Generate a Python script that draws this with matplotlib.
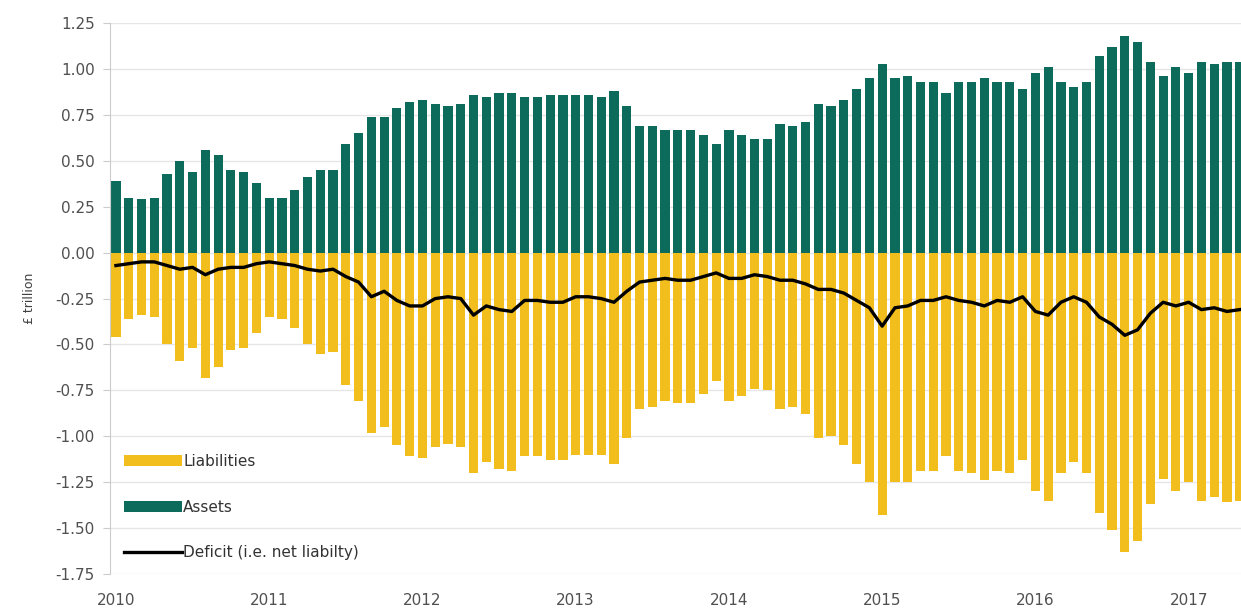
import matplotlib.pyplot as plt
import numpy as np

# monthly, Jan 2010 - May 2017, £ trillion
assets = [0.39, 0.30, 0.29, 0.30, 0.43, 0.50, 0.44, 0.56, 0.53, 0.45, 0.44, 0.38,
          0.30, 0.30, 0.34, 0.41, 0.45, 0.45, 0.59, 0.65, 0.74, 0.74, 0.79, 0.82,
          0.83, 0.81, 0.80, 0.81, 0.86, 0.85, 0.87, 0.87, 0.85, 0.85, 0.86, 0.86,
          0.86, 0.86, 0.85, 0.88, 0.80, 0.69, 0.69, 0.67, 0.67, 0.67, 0.64, 0.59,
          0.67, 0.64, 0.62, 0.62, 0.70, 0.69, 0.71, 0.81, 0.80, 0.83, 0.89, 0.95,
          1.03, 0.95, 0.96, 0.93, 0.93, 0.87, 0.93, 0.93, 0.95, 0.93, 0.93, 0.89,
          0.98, 1.01, 0.93, 0.90, 0.93, 1.07, 1.12, 1.18, 1.15, 1.04, 0.96, 1.01,
          0.98, 1.04, 1.03, 1.04, 1.04]
liabilities = [-0.46, -0.36, -0.34, -0.35, -0.50, -0.59, -0.52, -0.68, -0.62, -0.53, -0.52, -0.44,
               -0.35, -0.36, -0.41, -0.50, -0.55, -0.54, -0.72, -0.81, -0.98, -0.95, -1.05, -1.11,
               -1.12, -1.06, -1.04, -1.06, -1.20, -1.14, -1.18, -1.19, -1.11, -1.11, -1.13, -1.13,
               -1.10, -1.10, -1.10, -1.15, -1.01, -0.85, -0.84, -0.81, -0.82, -0.82, -0.77, -0.70,
               -0.81, -0.78, -0.74, -0.75, -0.85, -0.84, -0.88, -1.01, -1.00, -1.05, -1.15, -1.25,
               -1.43, -1.25, -1.25, -1.19, -1.19, -1.11, -1.19, -1.20, -1.24, -1.19, -1.20, -1.13,
               -1.30, -1.35, -1.20, -1.14, -1.20, -1.42, -1.51, -1.63, -1.57, -1.37, -1.23, -1.30,
               -1.25, -1.35, -1.33, -1.36, -1.35]
years = ['2010', '2011', '2012', '2013', '2014', '2015', '2016', '2017']

x = np.arange(len(assets))
deficit = np.array(assets) + np.array(liabilities)

fig = plt.figure(figsize=(12.41, 6.10), dpi=100)
ax = fig.add_axes([0.0886, 0.059, 0.9114, 0.903])

green = '#0d6b5c'
yellow = '#f2be1e'

b1 = ax.bar(x, liabilities, width=0.72, color=yellow, label='Liabilities', zorder=2)
b2 = ax.bar(x, assets, width=0.72, color=green, label='Assets', zorder=2)
l1, = ax.plot(x, deficit, color='black', lw=2.4, label='Deficit (i.e. net liabilty)', zorder=3)

ax.set_xlim(-0.47, 88.1)
ax.set_ylim(-1.75, 1.25)
ticks = np.arange(-1.75, 1.26, 0.25)
ax.set_yticks(ticks)
ax.set_yticklabels([f'{v:.2f}' for v in ticks])
ax.set_xticks(np.arange(0, len(assets), 12))
ax.set_xticklabels(years)
ax.set_ylabel('£ trillion', fontsize=9, color='#404040', labelpad=14)

ax.grid(axis='y', color='#e6e6e6', lw=1, zorder=0)
for s in ['top', 'right', 'bottom']:
    ax.spines[s].set_visible(False)
ax.spines['left'].set_color('#cccccc')
ax.tick_params(axis='y', colors='#cccccc', labelcolor='#505050', labelsize=11, length=5, pad=6)
ax.tick_params(axis='x', length=0, labelcolor='#505050', labelsize=11, pad=14)

ax.legend(handles=[b1, b2, l1], loc='lower left', bbox_to_anchor=(0.0, 0.0), frameon=False,
          fontsize=11, handlelength=3.8, handletextpad=0.1, labelspacing=2.0,
          borderaxespad=0.5, labelcolor='#333333')

plt.savefig('out.png')
